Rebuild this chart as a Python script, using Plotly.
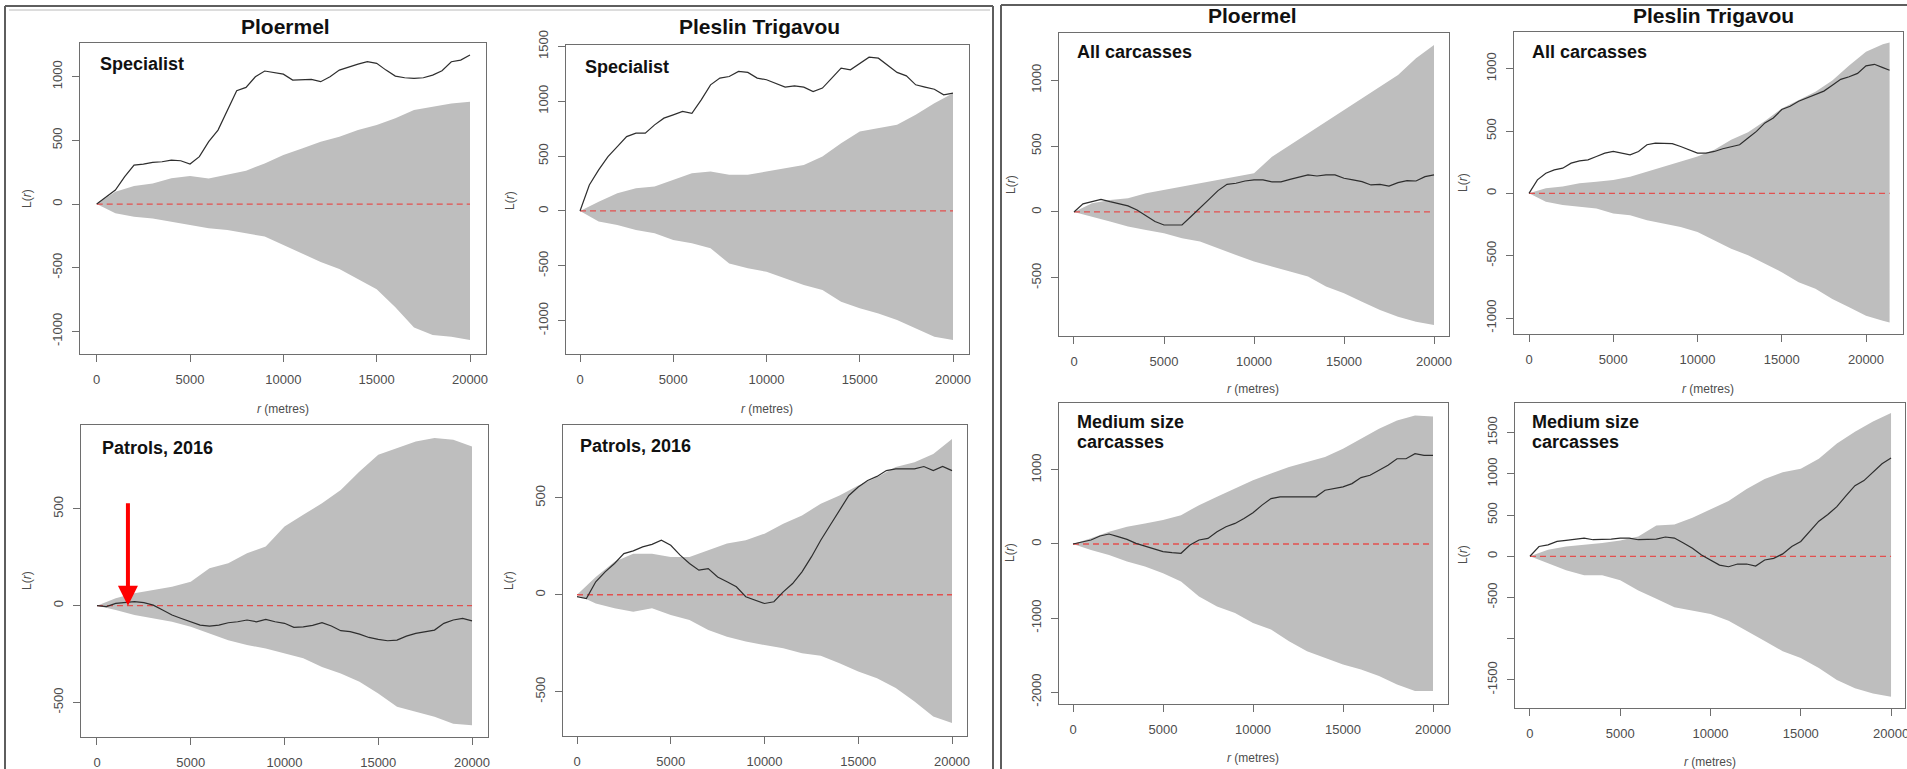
import plotly.graph_objects as go

W, H = 1907, 769

# ------------------------------------------------------------------ data
# r grids (metres)
R_OBS = list(range(0, 20001, 500))
R_ENV = list(range(0, 20001, 1000))
R_OBS_WIDE = list(range(0, 21001, 500)) + [21400]
R_ENV_WIDE = list(range(0, 21001, 1000)) + [21400]

COLUMN_TITLES = ["Ploermel", "Pleslin Trigavou"]
PANEL_LABELS = ["Specialist", "Specialist", "Patrols, 2016", "Patrols, 2016",
                "All carcasses", "All carcasses",
                "Medium size<br>carcasses", "Medium size<br>carcasses"]
X_TITLE = "<i>r</i> (metres)"
Y_TITLE = "L(<i>r</i>)"
THEO_VALUE = 0

X_TICKS = [0, 5000, 10000, 15000, 20000]
Y_TICKS_P1 = [-1000, -500, 0, 500, 1000]
Y_TICKS_P2 = [-1000, -500, 0, 500, 1000, 1500]
Y_TICKS_P3 = [-500, 0, 500]
Y_TICKS_P4 = [-500, 0, 500]
Y_TICKS_P5 = [-500, 0, 500, 1000]
Y_TICKS_P6 = [-1000, -500, 0, 500, 1000]
Y_TICKS_P7 = [-2000, -1000, 0, 1000]
Y_TICKS_P8 = [-1500, -1000, -500, 0, 500, 1000, 1500]
Y_TICKS_P8_UNLABELLED = [-1000]

# Panel 1: Ploermel, Specialist
p1_obs = [0, 58, 110, 215, 306, 314, 327, 332, 345, 340, 314, 372, 490, 581, 738, 890, 916,
          1000, 1045, 1031, 1020, 974, 974, 979, 961, 1000, 1052, 1078, 1099, 1118, 1105,
          1052, 1005, 992, 987, 992, 1013, 1047, 1118, 1131, 1170]
p1_up = [0, 97, 141, 162, 202, 220, 200, 228, 262, 319, 385, 437, 490, 529, 581, 620, 673,
         738, 764, 790, 804]
p1_lo = [0, -73, -99, -113, -139, -165, -191, -204, -230, -255, -320, -390, -455, -510, -590,
         -670, -810, -970, -1029, -1042, -1068]

# Panel 2: Pleslin Trigavou, Specialist
p2_obs = [0, 237, 374, 496, 587, 678, 709, 709, 785, 846, 876, 907, 891, 1013, 1150, 1211, 1226,
          1272, 1263, 1211, 1196, 1165, 1129, 1141, 1129, 1089, 1120, 1211, 1302, 1287, 1348,
          1402, 1393, 1332, 1263, 1232, 1150, 1129, 1110, 1059, 1074]
p2_up = [0, 85, 161, 207, 222, 283, 344, 359, 329, 329, 359, 389, 420, 496, 618, 724, 754, 785,
         876, 983, 1074]
p2_lo = [0, -97, -128, -173, -204, -265, -295, -341, -478, -523, -554, -614, -675, -721, -828,
         -888, -934, -995, -1071, -1147, -1177]

# Panel 3: Ploermel, Patrols 2016
p3_obs = [0, -5, 12, 17, 21, 16, 3, -22, -48, -66, -83, -100, -105, -100, -88, -83, -74, -83,
          -71, -83, -91, -112, -109, -102, -88, -105, -129, -134, -147, -164, -174, -181, -178,
          -157, -143, -134, -126, -91, -74, -66, -78]
p3_up = [0, 38, 64, 81, 98, 124, 193, 219, 271, 305, 409, 469, 529, 598, 693, 779, 814, 848,
         866, 857, 822]
p3_lo = [0, -22, -48, -66, -83, -109, -143, -178, -203, -221, -247, -272, -316, -350, -393,
         -453, -522, -548, -574, -609, -617]

# Panel 4: Pleslin Trigavou, Patrols 2016
p4_obs = [-10, -20, 67, 118, 161, 212, 226, 247, 260, 281, 255, 204, 161, 127, 135, 92, 67, 41,
          -10, -27, -45, -36, 15, 58, 118, 195, 281, 358, 435, 512, 555, 589, 610, 640, 649,
          649, 649, 661, 640, 661, 640]
p4_up = [0, 92, 170, 212, 212, 195, 195, 229, 264, 281, 315, 366, 409, 469, 512, 563, 606, 658,
         683, 726, 803]
p4_lo = [0, -45, -70, -87, -70, -104, -130, -182, -216, -241, -259, -276, -301, -315, -353,
         -396, -430, -481, -550, -627, -661]

# Panel 5: Ploermel, All carcasses
p5_obs = [0, 61, 78, 96, 78, 61, 46, 15, -30, -73, -99, -99, -99, -35, 28, 96, 162, 210, 218,
          235, 243, 243, 228, 228, 248, 263, 281, 273, 281, 281, 256, 243, 230, 205, 210, 197,
          223, 238, 235, 268, 281]
p5_up = [0, 66, 91, 104, 142, 167, 192, 218, 243, 268, 294, 420, 509, 597, 686, 775, 863, 952,
         1040, 1167, 1268]
p5_lo = [0, -35, -73, -111, -137, -162, -200, -225, -276, -327, -377, -415, -453, -491, -567,
         -618, -681, -744, -795, -833, -858]

# Panel 6: Pleslin Trigavou, All carcasses
p6_obs = [0, 108, 161, 188, 202, 242, 261, 269, 296, 323, 336, 323, 309, 336, 390, 403, 398,
          398, 376, 349, 323, 323, 336, 358, 376, 390, 444, 497, 565, 605, 672, 699, 739, 766,
          793, 820, 866, 914, 935, 962, 1022, 1035, 1008, 987]
p6_up = [0, 40, 54, 81, 94, 108, 134, 175, 215, 255, 296, 349, 430, 490, 580, 680, 750, 815,
         905, 1025, 1135, 1196, 1210]
p6_lo = [0, -67, -94, -108, -121, -161, -175, -215, -242, -269, -309, -376, -444, -497, -565,
         -632, -712, -766, -847, -914, -981, -1022, -1035]

# Panel 7: Ploermel, Medium size carcasses
p7_obs = [0, 31, 54, 108, 135, 99, 63, 9, -27, -72, -103, -117, -126, -13, 54, 76, 166, 233,
          278, 345, 422, 525, 614, 637, 637, 637, 637, 637, 726, 749, 771, 816, 897, 928, 996,
          1063, 1152, 1152, 1220, 1197, 1197]
p7_up = [0, 76, 166, 233, 278, 323, 390, 525, 637, 749, 861, 951, 1040, 1108, 1175, 1287, 1422,
         1556, 1668, 1735, 1722]
p7_lo = [0, -81, -148, -238, -305, -395, -507, -709, -843, -933, -1067, -1157, -1314, -1448,
         -1538, -1628, -1695, -1785, -1897, -1987, -1987]

# Panel 8: Pleslin Trigavou, Medium size carcasses
p8_obs = [0, 119, 139, 180, 193, 209, 221, 201, 201, 209, 221, 221, 201, 209, 209, 234, 221,
          160, 98, 16, -45, -107, -127, -94, -94, -119, -45, -25, 29, 119, 180, 303, 426, 508,
          602, 734, 857, 918, 1020, 1123, 1193]
p8_up = [0, 78, 119, 139, 160, 190, 240, 373, 385, 467, 570, 672, 816, 939, 1020, 1061, 1184,
         1369, 1512, 1635, 1738]
p8_lo = [0, -86, -168, -230, -230, -291, -414, -516, -619, -660, -701, -783, -906, -1029,
         -1152, -1234, -1357, -1500, -1602, -1664, -1705]

# ------------------------------------------------------------------ layout (pixels)
# box = (left, right, top, bottom) of each plot frame; x/y ranges of the axes
PANELS = [
    dict(obs=(R_OBS, p1_obs), env=(R_ENV, p1_up, p1_lo), yt=Y_TICKS_P1,
         box=(80, 486, 43, 354), xr=(-895, 20857), yr=(-1178, 1265)),
    dict(obs=(R_OBS, p2_obs), env=(R_ENV, p2_up, p2_lo), yt=Y_TICKS_P2,
         box=(566, 969, 45, 354), xr=(-751, 20858), yr=(-1304, 1513)),
    dict(obs=(R_OBS, p3_obs), env=(R_ENV, p3_up, p3_lo), yt=Y_TICKS_P3,
         box=(81, 488, 425, 737), xr=(-853, 20853), yr=(-678, 933)),
    dict(obs=(R_OBS, p4_obs), env=(R_ENV, p4_up, p4_lo), yt=Y_TICKS_P4,
         box=(563, 967, 425, 736), xr=(-747, 20800), yr=(-728, 875)),
    dict(obs=(R_OBS, p5_obs), env=(R_ENV, p5_up, p5_lo), yt=Y_TICKS_P5,
         box=(1059, 1449, 33, 336), xr=(-833, 20833), yr=(-942, 1359)),
    dict(obs=(R_OBS_WIDE, p6_obs), env=(R_ENV_WIDE, p6_up, p6_lo), yt=Y_TICKS_P6,
         box=(1514, 1903, 32, 334), xr=(-890, 22196), yr=(-1128, 1294)),
    dict(obs=(R_OBS, p7_obs), env=(R_ENV, p7_up, p7_lo), yt=Y_TICKS_P7,
         box=(1059, 1448, 403, 704), xr=(-778, 20833), yr=(-2162, 1905)),
    dict(obs=(R_OBS, p8_obs), env=(R_ENV, p8_up, p8_lo), yt=Y_TICKS_P8,
         box=(1515, 1905, 403, 708), xr=(-829, 20773), yr=(-1841, 1860)),
]

LABEL_POS = [(98, 64), (583, 67), (100, 448), (578, 446), (1075, 52), (1530, 52),
             (1075, 432), (1530, 432)]
YTITLE_POS = [(27, 199), (510, 200), (27, 581), (509, 580), (1011, 185), (1463, 183),
              (1010, 553), (1463, 555)]
XTITLE_POS = {0: (283, 409), 1: (767, 409), 4: (1253, 389), 5: (1708, 389),
              6: (1253, 758), 7: (1710, 762)}
COLTITLE_POS = [(285, 27, 0), (759, 27, 1), (1252, 16, 0), (1713, 16, 1)]

FONT = "Liberation Sans, Arial, sans-serif"
FRAME = "#6e6e6e"
TICKFONT = dict(family=FONT, size=13, color="#4d4d4d")


def fx(x):
    return x / W


def fy(y):
    return 1 - y / H


def fmt(v):
    return str(v)


fig = go.Figure()
annotations = []

for i, p in enumerate(PANELS, start=1):
    xa = "x" if i == 1 else f"x{i}"
    ya = "y" if i == 1 else f"y{i}"
    r_env, up, lo = p["env"]
    r_obs, obs = p["obs"]
    fig.add_trace(go.Scatter(
        x=list(r_env) + list(r_env)[::-1], y=list(up) + list(lo)[::-1],
        fill="toself", fillcolor="#bebebe", mode="lines", line=dict(width=0, color="#bebebe"),
        xaxis=xa, yaxis=ya, hoverinfo="skip", showlegend=False))
    fig.add_trace(go.Scatter(
        x=[r_obs[0], r_obs[-1]], y=[THEO_VALUE, THEO_VALUE], mode="lines",
        line=dict(color="#e3504f", width=1.3, dash="6px,4px"),
        xaxis=xa, yaxis=ya, hoverinfo="skip", showlegend=False))
    fig.add_trace(go.Scatter(
        x=r_obs, y=obs, mode="lines", line=dict(color="#2e2e2e", width=1.2),
        xaxis=xa, yaxis=ya, showlegend=False))

    x0, x1, y0, y1 = p["box"]
    common = dict(showgrid=False, zeroline=False, showline=True, mirror=True,
                  linecolor=FRAME, linewidth=1.3, ticks="outside", ticklen=7,
                  tickwidth=1.1, tickcolor=FRAME, tickfont=TICKFONT, fixedrange=True,
                  automargin=False, ticklabeloverflow="allow")
    yt = p["yt"]
    ytext = ["" if (i == 8 and v in Y_TICKS_P8_UNLABELLED) else fmt(v) for v in yt]
    fig.update_layout(**{
        ("xaxis" if i == 1 else f"xaxis{i}"): dict(
            domain=[fx(x0), fx(x1)], range=list(p["xr"]), anchor=ya,
            tickvals=X_TICKS, ticktext=[fmt(v) for v in X_TICKS],
            ticklabelstandoff=6, **common),
        ("yaxis" if i == 1 else f"yaxis{i}"): dict(
            domain=[fy(y1), fy(y0)], range=list(p["yr"]), anchor=xa,
            tickvals=yt, ticktext=ytext, tickangle=-90,
            ticklabelstandoff=5, **common),
    })

    # panel label (bold, top-left inside frame)
    lx, ly = LABEL_POS[i - 1]
    lines = PANEL_LABELS[i - 1].split("<br>")
    for k, line in enumerate(lines):
        annotations.append(dict(
            x=fx(lx), y=fy(ly - 10 * (len(lines) - 1) + 20 * k), xref="paper", yref="paper",
            text=f"<b>{line}</b>", showarrow=False, xanchor="left", yanchor="middle",
            font=dict(family=FONT, size=18, color="#111111")))
    # y title
    tx, ty = YTITLE_POS[i - 1]
    annotations.append(dict(
        x=fx(tx), y=fy(ty), xref="paper", yref="paper", text=Y_TITLE, textangle=-90,
        showarrow=False, xanchor="center", yanchor="middle",
        font=dict(family=FONT, size=12, color="#4d4d4d")))
    if (i - 1) in XTITLE_POS:
        tx, ty = XTITLE_POS[i - 1]
        annotations.append(dict(
            x=fx(tx), y=fy(ty), xref="paper", yref="paper", text=X_TITLE,
            showarrow=False, xanchor="center", yanchor="middle",
            font=dict(family=FONT, size=12, color="#4d4d4d")))

for cx, cy, k in COLTITLE_POS:
    annotations.append(dict(
        x=fx(cx), y=fy(cy), xref="paper", yref="paper", text=f"<b>{COLUMN_TITLES[k]}</b>",
        showarrow=False, xanchor="center", yanchor="middle",
        font=dict(family=FONT, size=21, color="#111111")))

# red arrow in the Ploermel / Patrols panel
annotations.append(dict(
    x=1650, y=0, xref="x3", yref="y3", ax=0, ay=-104, text="", showarrow=True,
    arrowhead=2, arrowsize=1, arrowwidth=4, arrowcolor="#ff0000"))

# frames of the two composite images
shapes = [
    dict(type="line", xref="paper", yref="paper", x0=fx(5), x1=fx(5), y0=fy(769), y1=fy(6),
         line=dict(color="#5e5e5e", width=2)),
    dict(type="line", xref="paper", yref="paper", x0=fx(5), x1=fx(993), y0=fy(6), y1=fy(6),
         line=dict(color="#5e5e5e", width=2)),
    dict(type="line", xref="paper", yref="paper", x0=fx(993), x1=fx(993), y0=fy(769), y1=fy(6),
         line=dict(color="#5e5e5e", width=2)),
    dict(type="line", xref="paper", yref="paper", x0=fx(9), x1=fx(990), y0=fy(10), y1=fy(10),
         line=dict(color="#dcdcdc", width=2)),
    dict(type="line", xref="paper", yref="paper", x0=fx(1001), x1=fx(1001), y0=fy(769), y1=fy(5),
         line=dict(color="#5e5e5e", width=2)),
    dict(type="line", xref="paper", yref="paper", x0=fx(1001), x1=fx(1907), y0=fy(5), y1=fy(5),
         line=dict(color="#5e5e5e", width=2)),
]

fig.update_layout(
    width=W, height=H, margin=dict(l=0, r=0, t=0, b=0, pad=0, autoexpand=False),
    autosize=False,
    paper_bgcolor="white", plot_bgcolor="white",
    annotations=annotations, shapes=shapes, showlegend=False,
    font=dict(family=FONT),
)

fig.write_html(
    "out.html",
    config={"responsive": False, "displayModeBar": False},
    post_script="document.body.style.margin='0';document.body.style.padding='0';"
                "document.body.style.overflow='hidden';"
                "document.documentElement.style.overflow='hidden';",
)
